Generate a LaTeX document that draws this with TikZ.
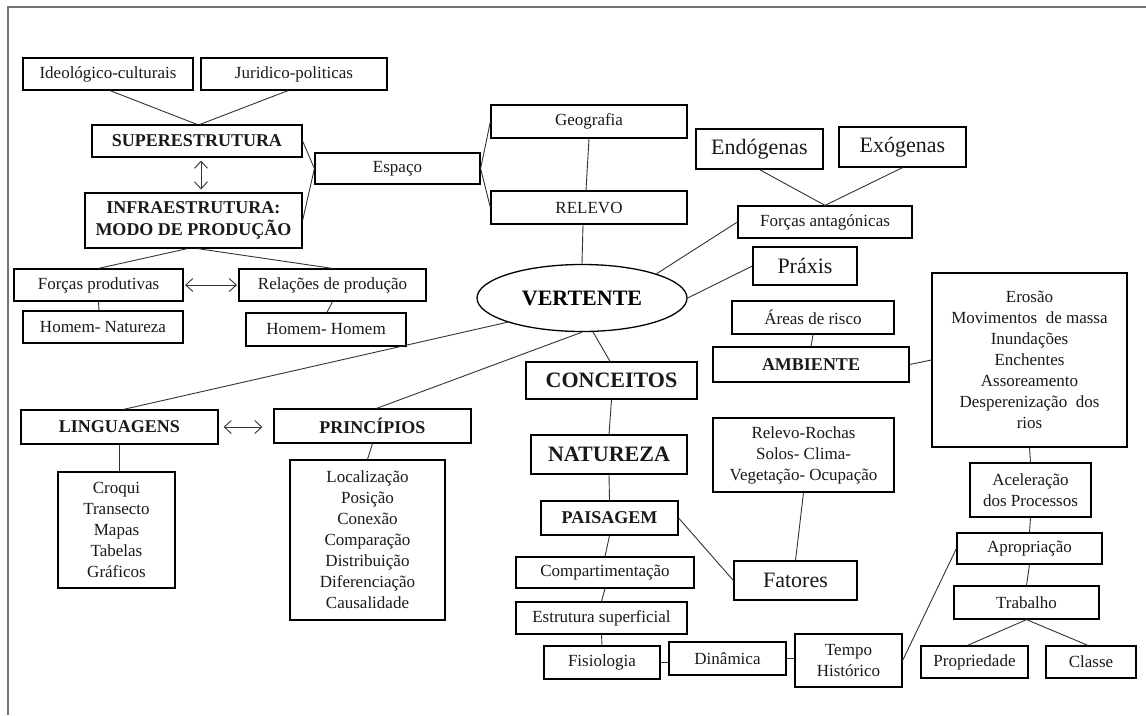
\documentclass[tikz,border=0pt]{standalone}
\usepackage{fontspec}
\setmainfont{Liberation Serif}
\usetikzlibrary{arrows.meta,shapes.geometric}

\newcommand\fsN{\fontsize{17}{21}\selectfont}
\newcommand\fsB{\fontsize{18}{22}\selectfont\bfseries}
\newcommand\fsL{\fontsize{22}{26}\selectfont}
\newcommand\fsLB{\fontsize{22}{26}\selectfont\bfseries}

\tikzset{
  box/.style={draw=black, line width=1.2pt, rectangle, inner sep=0pt,
    align=center, font=\fsN, text=black!90},
  bbox/.style={box, font=\fsB},
  lbox/.style={box, font=\fsL},
  lbbox/.style={box, font=\fsLB},
  sz/.style 2 args={minimum width=#1pt, minimum height=#2pt},
  link/.style={draw=black!80, line width=0.9pt},
  twoway/.style={link, {Straight Barb[length=7pt,width=13pt]}-{Straight Barb[length=7pt,width=13pt]}},
  frameline/.style={draw=black!55, line width=1.6pt}
}

\begin{document}
\begin{tikzpicture}[x=1pt, y=-1pt]
\useasboundingbox (0,0) rectangle (1146,715);
\fill[white] (0,0) rectangle (1146,715);

% page frame
\draw[frameline] (8,715) -- (8,7) -- (1146,7);

% --- upper left: structure of society
\node[box, sz={170}{32}] (ideo) at (108,74) {Ideológico-culturais};
\node[box, sz={186}{32}] (jur) at (294,74) {Juridico-politicas};
\node[bbox, sz={210}{32}] (super) at (197,141) {SUPERESTRUTURA};
\node[bbox, sz={217}{55}] (infra) at (193.5,220.5) {INFRAESTRUTURA:\\MODO DE PRODUÇÃO};
\node[box, sz={165}{31}] (espaco) at (397.5,168.5) {Espaço};
\node[box, sz={169}{32}] (forprod) at (98.5,285) {Forças produtivas};
\node[box, sz={187}{32}] (relprod) at (332.5,285) {Relações de produção};
\node[box, sz={160}{32}] (hn) at (103,327) {Homem- Natureza};
\node[box, sz={160}{33}] (hh) at (326,329.5) {Homem- Homem};

% --- centre column
\node[box, sz={196}{33}] (geo) at (589,121.5) {Geografia};
\node[box, sz={196}{33}] (relevo) at (589,207.5) {RELEVO};
\node[draw=black, line width=1.3pt, ellipse, inner sep=0pt,
  minimum width=210pt, minimum height=67pt, font=\fsLB] (vertente) at (582,298) {VERTENTE};
\node[lbbox, sz={171}{37}] (conceitos) at (611.5,380.5) {CONCEITOS};
\node[lbbox, sz={156}{39}] (natureza) at (609,454.5) {NATUREZA};
\node[bbox, sz={137}{34}] (paisagem) at (609.5,518) {PAISAGEM};
\node[box, sz={178}{31}] (compart) at (605,572.5) {Compartimentação};
\node[box, sz={171}{32}] (estrut) at (601.5,618) {Estrutura superficial};
\node[box, sz={116}{33}] (fisio) at (602,662.5) {Fisiologia};
\node[box, sz={117}{33}] (dinam) at (727.5,658.5) {Dinâmica};
\node[box, sz={107}{53}] (tempo) at (848.5,660.5) {Tempo\\Histórico};

% --- left: languages and principles
\node[bbox, sz={197}{34}] (ling) at (119.5,427) {LINGUAGENS};
\node[bbox, sz={197}{34}] (princ) at (372.5,426) {PRINCÍPIOS};
\node[box, sz={117}{116}] (croqui) at (116.5,530) {Croqui\\Transecto\\Mapas\\Tabelas\\Gráficos};
\node[box, sz={155}{160}] (localiz) at (367.5,540)
  {Localização\\Posição\\Conexão\\Comparação\\Distribuição\\Diferenciação\\Causalidade};

% --- right side
\node[lbox, sz={127}{40}] (endo) at (759.5,149) {Endógenas};
\node[lbox, sz={127}{40}] (exo) at (902.5,147) {Exógenas};
\node[box, sz={174}{32}] (forcas) at (825,222) {Forças antagónicas};
\node[lbox, sz={104}{38}] (praxis) at (805,266) {Práxis};
\node[box, sz={162}{33}] (areas) at (813,317.5) {Áreas de risco};
\node[bbox, sz={196}{35}] (ambiente) at (811,364.5) {AMBIENTE};
\node[box, sz={195}{174}] (erosao) at (1029.5,360)
  {Erosão\\Movimentos\ \ de massa\\Inundações\\Enchentes\\Assoreamento\\Desperenização\ \ dos\\rios};
\node[box, sz={181}{74}] (relroch) at (803.5,455) {Relevo-Rochas\\Solos- Clima-\\Vegetação- Ocupação};
\node[lbox, sz={123}{39}] (fatores) at (795.5,580.5) {Fatores};
\node[box, sz={121}{54}] (acel) at (1030.5,490) {Aceleração\\dos Processos};
\node[box, sz={145}{31}] (aprop) at (1029.5,548.5) {Apropriação};
\node[box, sz={145}{33}] (trab) at (1026.5,602.5) {Trabalho};
\node[box, sz={107}{32}] (propr) at (974.5,662) {Propriedade};
\node[box, sz={90}{32}] (classe) at (1091,662) {Classe};

% --- connectors, upper left
\draw[link] ([xshift=2pt]ideo.south) -- (super.north);
\draw[link] ([xshift=-6pt]jur.south) -- ([xshift=3pt]super.north);
\draw[twoway] ([xshift=4pt,yshift=-3pt]super.south) -- ([xshift=7.5pt,yshift=3pt]infra.north);
\draw[link] (super.east) -- (espaco.west);
\draw[link] (infra.east) -- (espaco.west);
\draw[link] (espaco.east) -- (geo.west);
\draw[link] (espaco.east) -- (relevo.west);
\draw[link] ([xshift=-6pt]infra.south) -- (forprod.north);
\draw[link] ([xshift=4pt]infra.south) -- (relprod.north);
\draw[twoway] ([xshift=1.5pt]forprod.east) -- ([xshift=-1.5pt]relprod.west);
\draw[link] (forprod.south) -- ([xshift=-4pt]hn.north);
\draw[link] (relprod.south) -- ([xshift=1pt]hh.north);

% --- connectors, centre
\draw[link] (geo.south) -- ([xshift=-3pt]relevo.north);
\draw[link] ([xshift=-6pt]relevo.south) -- (vertente.north);
\draw[link] (vertente.18) -- (forcas.west);
\draw[link] (vertente.east) -- (praxis.west);
\draw[link] (vertente.-72) -- ([xshift=-1.5pt]conceitos.north);
\draw[link] (vertente.south) -- ([xshift=4pt]princ.north);
\draw[link] (vertente.198) -- ([xshift=4pt]ling.north);
\draw[link] (conceitos.south) -- (natureza.north);
\draw[link] (natureza.south) -- (paisagem.north);
\draw[link] (paisagem.south) -- (compart.north);
\draw[link] (compart.south) -- (estrut.north);
\draw[link] (estrut.south) -- (fisio.north);
\draw[link] (fisio.east) -- (fisio.east -| dinam.west);
\draw[link] (dinam.east) -- (dinam.east -| tempo.west);
\draw[link] (paisagem.east) -- (fatores.west);
\draw[link] (relroch.south) -- (fatores.north);

% --- connectors, left
\draw[twoway] ([xshift=5pt]ling.east) -- ([xshift=-11pt]ling.east -| princ.west);
\draw[link] (ling.south) -- (ling.south |- croqui.north);
\draw[link] (princ.south) -- (localiz.north);

% --- connectors, right
\draw[link] (endo.south) -- (forcas.north);
\draw[link] (exo.south) -- (forcas.north);
\draw[link] (areas.south) -- (ambiente.north);
\draw[link] (ambiente.east) -- (erosao.west);
\draw[link] (erosao.south) -- (acel.north);
\draw[link] (acel.south) -- (aprop.north);
\draw[link] (aprop.south) -- (trab.north);
\draw[link] (trab.south) -- ([xshift=-7pt]propr.north);
\draw[link] (trab.south) -- ([xshift=-3pt]classe.north);
\draw[link] (tempo.east) -- (aprop.west);
\end{tikzpicture}
\end{document}
